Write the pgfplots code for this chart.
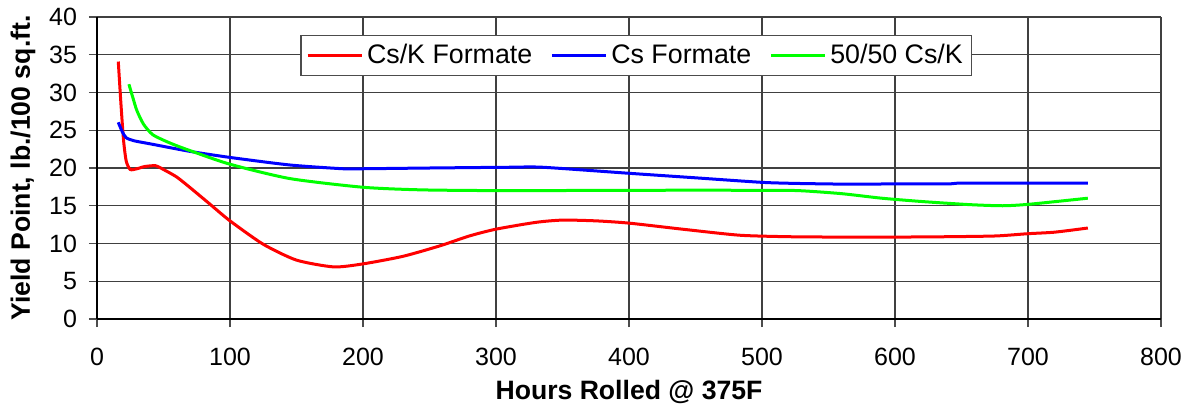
\documentclass[border=0pt]{standalone}
\usepackage{fontspec}
\setmainfont{Liberation Sans}
\usepackage{pgfplots}
\pgfplotsset{compat=1.18}
\begin{document}
\begin{tikzpicture}
\path[use as bounding box] (-48.5bp,-46.5bp) rectangle (548.5bp,159.5bp);
\begin{axis}[
  at={(0,0)}, anchor=south west,
  scale only axis, width=532bp, height=151bp,
  xmin=0, xmax=800, ymin=0, ymax=40,
  xtick={0,100,...,800}, ytick={0,5,...,40},
  axis x line*=bottom, axis y line*=left,
  axis line style={black, line width=1bp},
  tick align=outside, major tick length=4bp,
  tick style={black!70, line width=0.6bp},
  grid=major, major grid style={black!75, line width=0.6bp},
  /pgf/number format/assume math mode=true,
  ticklabel style={font=\fontsize{12.5bp}{14bp}\selectfont},
  xticklabel style={yshift=-7bp},
  yticklabel style={xshift=-2.5bp},
  xlabel={\textbf{Hours Rolled @ 375F}},
  ylabel={\textbf{Yield Point, lb./100 sq.ft.}},
  xlabel style={at={(axis description cs:0.5,-0.24)}, anchor=center},
  label style={font=\fontsize{13.3bp}{15bp}\selectfont},
  legend columns=3,
  legend style={at={(0.507,0.8725)}, anchor=center, draw=black!70, line width=0.6bp,
    font=\fontsize{13.4bp}{15bp}\selectfont, inner sep=2.5bp,
    /tikz/every even column/.append style={column sep=7bp}},
  legend image code/.code={\draw[#1, line width=1.5bp] (0bp,0bp) -- (27bp,0bp);},
]
\addplot[red, line width=1.5bp, smooth, tension=0.4] coordinates {
(16,34.1) (18,28.5) (20,23.6) (22,20.9) (25,19.8) (30,19.9) (36,20.2) (44,20.3) (50,19.8)
(60,18.8) (70,17.4) (85,15.2) (100,13.0) (125,9.9) (150,7.8) (178,6.9) (200,7.3)
(230,8.3) (258,9.7) (280,11.0) (300,11.9) (330,12.8) (350,13.1) (375,13.0) (400,12.7)
(440,11.9) (483,11.1) (520,10.9) (560,10.85) (600,10.85) (640,10.9) (676,11.0) (700,11.3)
(720,11.5) (745,12.05)};
\addlegendentry{Cs/K Formate}
\addplot[blue, line width=1.5bp, smooth, tension=0.4] coordinates {
(16,26.05) (19,24.8) (22,24.0) (28,23.6) (40,23.2) (70,22.2) (100,21.4) (145,20.4)
(185,19.9) (200,19.9) (250,20.0) (310,20.1) (335,20.1) (400,19.3) (450,18.7) (500,18.1)
(528,17.95) (570,17.85) (600,17.9) (640,17.9) (650,18.0) (700,18.0) (745,18.0)};
\addlegendentry{Cs Formate}
\addplot[green, line width=1.5bp, smooth, tension=0.4] coordinates {
(24,31.1) (27,29.3) (30,27.6) (35,25.8) (42,24.4) (55,23.3) (70,22.3) (100,20.5)
(145,18.6) (200,17.45) (245,17.1) (310,17.0) (400,17.05) (500,17.05) (528,17.0)
(560,16.6) (590,16.0) (621,15.55) (656,15.15) (681,15.0) (701,15.2) (745,16.0)};
\addlegendentry{50/50 Cs/K}
\end{axis}
\end{tikzpicture}
\end{document}
